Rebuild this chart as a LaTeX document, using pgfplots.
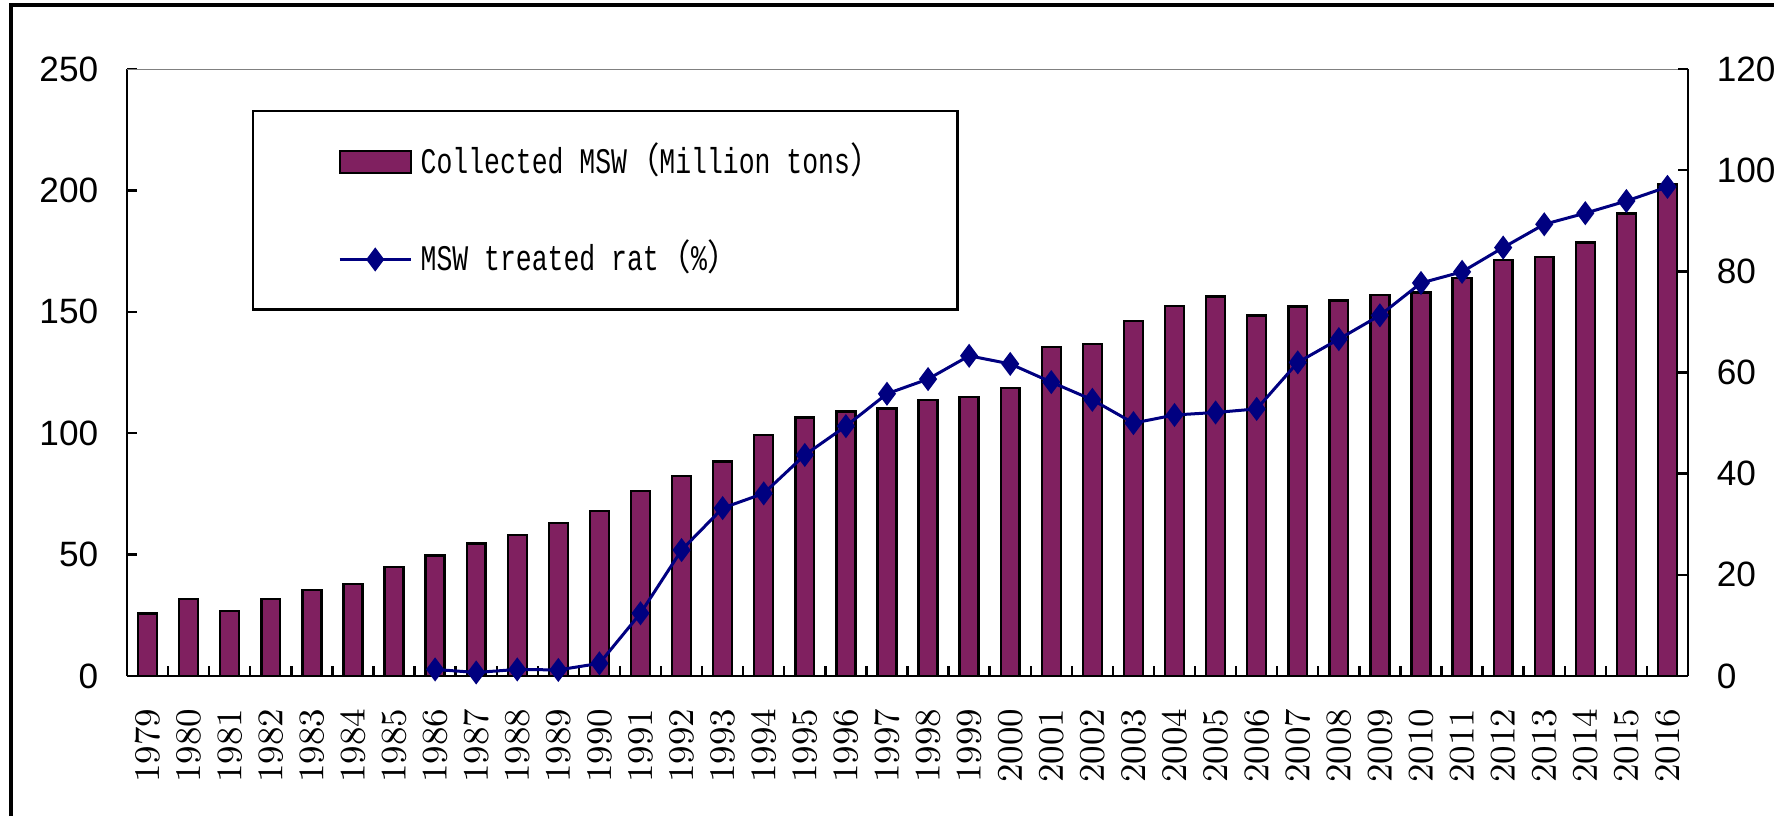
\documentclass[border=0pt]{standalone}
\usepackage{fontspec}
\usepackage{pgfplots}
\pgfplotsset{compat=1.18}
\usepackage{pgfplotstable}
\newfontfamily\ticksans{Liberation Sans}
\newfontfamily\legmono{Liberation Mono}[FakeStretch=0.735]
\newfontfamily\cjkfont{Noto Sans CJK SC}[FakeStretch=0.9]
\newcommand\cjk[1]{{\cjkfont #1}}
\newcommand\msp{\hspace*{3.97pt}}
\definecolor{barpurple}{RGB}{128,32,96}
\definecolor{navyline}{RGB}{0,0,128}
\pgfplotsset{
  barlegend/.style={legend image code/.code={\draw[##1] (0pt,-2.75pt) rectangle (17.75pt,2.75pt);}},
  linelegend/.style={legend image code/.code={\draw[mark repeat=2, mark phase=2, ##1] plot coordinates {(0pt,0pt) (8.875pt,0pt) (17.75pt,0pt)};}},
}

\pgfplotstableread{
year msw
1979 25.8
1980 31.7
1981 26.9
1982 31.7
1983 35.4
1984 37.9
1985 45.0
1986 49.7
1987 54.6
1988 58.2
1989 63.0
1990 68.0
1991 76.3
1992 82.4
1993 88.3
1994 99.3
1995 106.5
1996 109.0
1997 110.1
1998 113.8
1999 114.9
2000 118.5
2001 135.4
2002 136.7
2003 146.3
2004 152.4
2005 156.3
2006 148.5
2007 152.2
2008 154.6
2009 156.8
2010 157.9
2011 164.0
2012 171.3
2013 172.6
2014 178.5
2015 190.5
2016 202.5
}\mswtable

\pgfplotstableread{
year rate
1986 1.3
1987 0.7
1988 1.3
1989 1.2
1990 2.5
1991 12.4
1992 24.9
1993 33.2
1994 36.1
1995 43.7
1996 49.4
1997 55.8
1998 58.7
1999 63.3
2000 61.7
2001 58.1
2002 54.6
2003 50.0
2004 51.6
2005 52.1
2006 52.8
2007 62.0
2008 66.6
2009 71.3
2010 77.7
2011 79.9
2012 84.7
2013 89.3
2014 91.5
2015 93.9
2016 96.7
}\ratetable

\begin{document}
\begin{tikzpicture}
\begin{axis}[
  at={(31.75pt,35pt)}, anchor=south west,
  scale only axis, width=390.25pt, height=151.75pt,
  xmin=1978.5, xmax=2016.5, ymin=0, ymax=250,
  axis x line*=bottom, axis y line*=left,
  axis line style={-, line width=0.6pt, black},
  xtick={1979,1980,...,2016},
  /pgf/number format/1000 sep={},
  x tick label style={rotate=90, anchor=east, inner sep=0pt, font=\fontsize{9.2}{10}\selectfont},
  xticklabel shift=8pt,
  tick align=inside,
  major tick length=0pt,
  tick style={black, line width=0.6pt},
  ytick={0,50,100,150,200,250},
  yticklabels={0,50,100,150,200,250},
  y tick label style={font=\ticksans\fontsize{8.8}{10}\selectfont, inner sep=0pt},
  yticklabel shift=7pt,
  extra x ticks={1979.5,1980.5,...,2015.5},
  extra x tick labels={},
  extra y ticks={50,100,150,200,250},
  extra y tick labels={},
  extra tick style={major tick length=2.4pt, tick style={black, line width=0.6pt}},
  legend cell align=left,
  legend style={at={(0.0801,0.9325)}, anchor=north west, draw=black, line width=0.6pt,
    inner xsep=21.25pt, inner ysep=9.6pt, row sep=18.5pt, column sep=2.1pt,
    nodes={inner sep=0pt, text height=5.75pt, text depth=0pt},
    font=\legmono\fontsize{9}{10}\selectfont},
]
\addplot[ybar, bar width=0.46, fill=barpurple, draw=black, line width=0.6pt, barlegend]
  table[x=year, y=msw] {\mswtable};
\addlegendentry{\makebox[113pt][l]{Collected\msp MSW\cjk{（}Million\msp tons\cjk{）}}}
\addlegendimage{navyline, line width=0.75pt, mark=diamond*, mark size=2.4pt, mark options={fill=navyline}, linelegend}
\addlegendentry{\makebox[113pt][l]{MSW\msp treated\msp rat\cjk{（}\%\cjk{）}}}
\draw[gray, line width=0.45pt] (rel axis cs:0,1) -- (rel axis cs:1,1);
\end{axis}

\begin{axis}[
  at={(31.75pt,35pt)}, anchor=south west,
  scale only axis, width=390.25pt, height=151.75pt,
  xmin=1978.5, xmax=2016.5, ymin=0, ymax=120,
  axis x line=none, axis y line*=right,
  axis line style={-, line width=0.6pt, black},
  tick align=inside, major tick length=2.5pt,
  tick style={black, line width=0.6pt},
  ytick={0,20,40,60,80,100,120},
  yticklabels={0,20,40,60,80,100,120},
  y tick label style={font=\ticksans\fontsize{8.8}{10}\selectfont, inner sep=0pt},
  yticklabel shift=7pt,
]
\addplot[navyline, line width=0.75pt, mark=diamond*, mark size=2.4pt, mark options={fill=navyline}]
  table[x=year, y=rate] {\ratetable};
\end{axis}

\draw[line width=0.8pt] (2.75pt,0pt) -- (2.75pt,202.75pt) -- (443.5pt,202.75pt);
\pgfresetboundingbox
\useasboundingbox (0,0) rectangle (443.5pt,204pt);
\end{tikzpicture}
\end{document}
